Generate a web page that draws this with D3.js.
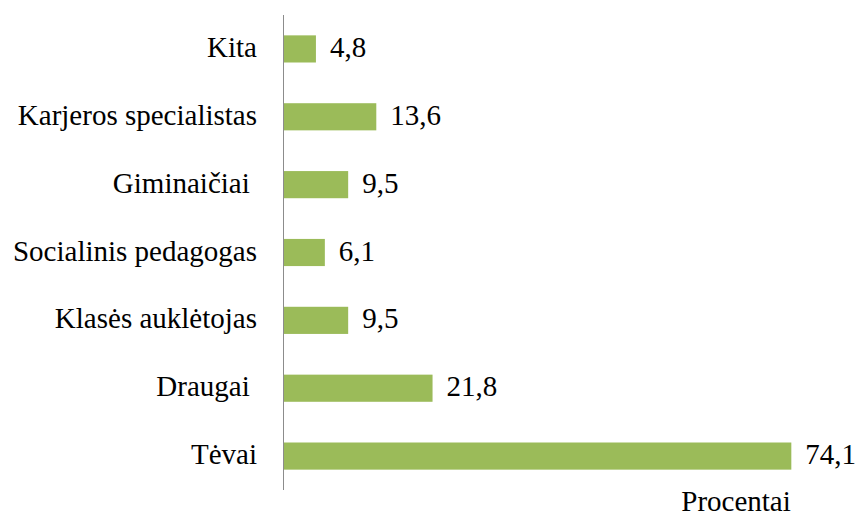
<!DOCTYPE html>
<html>
<head>
<script src="https://cdn.jsdelivr.net/npm/d3@7"></script>
</head>
<body style="margin:0">
<div id="vis"></div>
<script>
// ==== DATA ====
const categories = ["Kita", "Karjeros specialistas", "Giminai\u010diai ", "Socialinis pedagogas",
                    "Klas\u0117s aukl\u0117tojas", "Draugai ", "T\u0117vai"];
const values = [4.8, 13.6, 9.5, 6.1, 9.5, 21.8, 74.1];
const axisTitle = "Procentai";

const width = 860, height = 515;
const x0 = 283, plotTop = 15, plotBottom = 490;
const labelFont = "'Liberation Serif'";
// 26px renders as serif here; scale it up to the reference's ~29px
const fontSize = "26px";
const k = 29 / 26;

const svg = d3.select("#vis")
  .append("svg")
  .attr("width", width)
  .attr("height", height);

const x = d3.scaleLinear().domain([0, 80]).range([x0, x0 + 80 * 6.86]);
const y = d3.scaleBand().domain(categories).range([plotTop, plotBottom]).paddingInner(0.6).paddingOuter(0.3);

// bars
svg.selectAll("rect")
  .data(values)
  .enter()
  .append("rect")
  .attr("x", x(0))
  .attr("y", (d, i) => y(categories[i]))
  .attr("width", d => x(d) - x(0))
  .attr("height", y.bandwidth())
  .attr("fill", "#9bbb59");

// value labels
svg.selectAll(".val")
  .data(values)
  .enter()
  .append("g")
  .attr("class", "val")
  .attr("transform", (d, i) => `translate(${x(d) + 14},${y(categories[i]) + y.bandwidth() / 2}) scale(${k})`)
  .append("text")
  .attr("dy", "0.28em")
  .style("font-family", labelFont)
  .style("font-size", fontSize)
  .text(d => d3.format(".1f")(d).replace(".", ","));

// category axis
const yAxis = svg.append("g")
  .attr("transform", `translate(${x0},0)`)
  .call(d3.axisLeft(y).tickSize(0).tickPadding(26));
yAxis.attr("font-family", null).attr("font-size", null);
yAxis.select(".domain").attr("stroke", "#8c8c8c").attr("d", `M0.5,${plotTop}V${plotBottom}`);
yAxis.selectAll("text")
  .attr("x", -26 / k)
  .attr("dy", "0.28em")
  .attr("transform", `scale(${k})`)
  .style("font-family", labelFont)
  .style("font-size", fontSize)
  .attr("fill", "#000")
  .style("white-space", "pre");

// axis title
svg.append("g")
  .attr("transform", `translate(736,511) scale(${k})`)
  .append("text")
  .attr("text-anchor", "middle")
  .style("font-family", labelFont)
  .style("font-size", fontSize)
  .text(axisTitle);
</script>
</body>
</html>
